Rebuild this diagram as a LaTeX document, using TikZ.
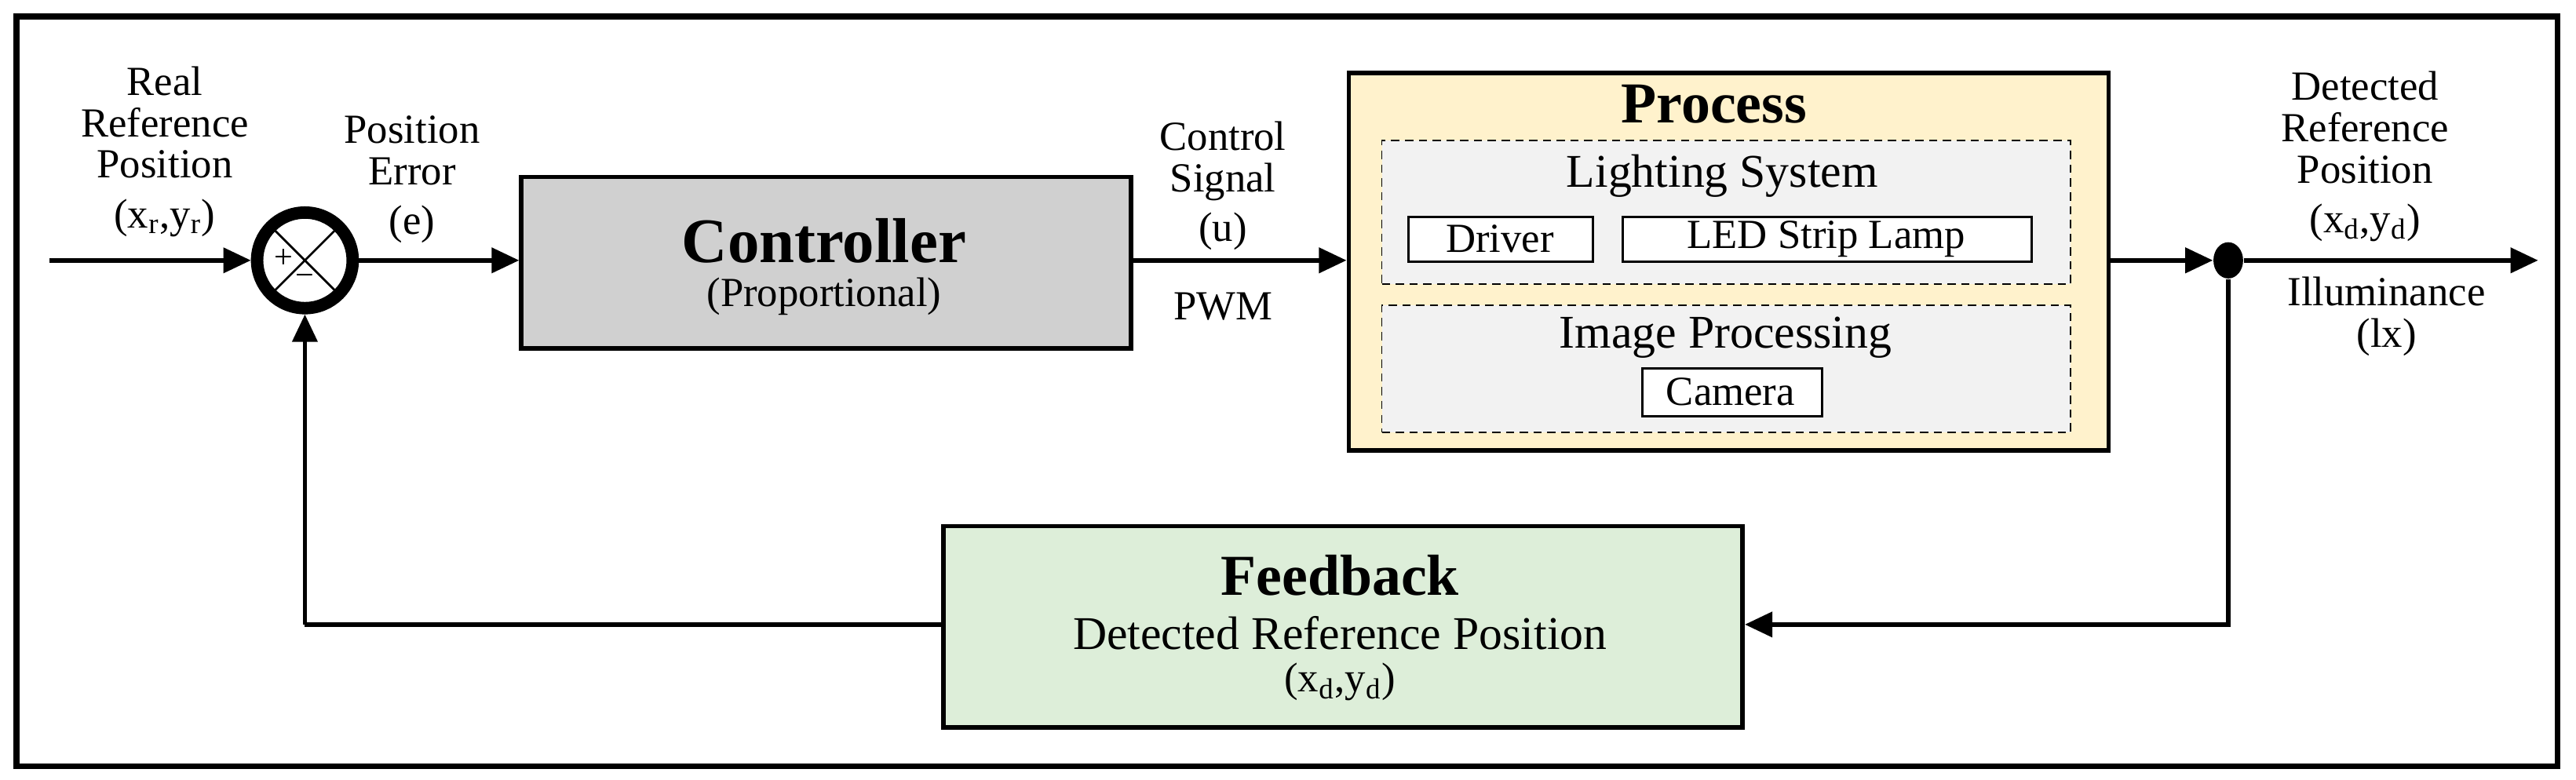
\documentclass[tikz,border=0pt]{standalone}
\usepackage{fontspec}
\setmainfont{Liberation Serif}
\usetikzlibrary{arrows.meta,calc,shapes.geometric}
\definecolor{procfill}{HTML}{FFF2CC}
\definecolor{fbfill}{HTML}{DDEED9}
\definecolor{ctrlfill}{HTML}{D0D0D0}
\definecolor{subfill}{HTML}{F2F2F2}
\begin{document}
\begin{tikzpicture}[x=0.021cm,y=-0.021cm,
  lbl/.style={align=center,font=\fontsize{15}{15}\selectfont,inner sep=0},
  arr/.style={line width=1.6pt,-{Triangle[length=10pt,width=9pt]}},
  ln/.style={line width=1.6pt},
  blk/.style={draw,line width=1.6pt,anchor=north west,inner sep=0},
  dsh/.style={draw,densely dashed,line width=0.5pt,fill=subfill,anchor=north west,inner sep=0},
  sub/.style={draw,line width=0.8pt,fill=white,anchor=north west,inner sep=0}]
\useasboundingbox (0,0) rectangle (1563,473);
\draw[line width=2pt] (10,10) rectangle (1552,465);
% blocks
\node[blk,fill=ctrlfill,minimum width=370*0.021cm,minimum height=104*0.021cm] (ctrl) at (315,106) {};
\node[font=\fontsize{23}{24}\selectfont\bfseries] at (500,146) {Controller};
\node[lbl] at (500,180) {(Proportional)};
\node[blk,fill=procfill,minimum width=461*0.021cm,minimum height=229*0.021cm] (proc) at (817,43) {};
\node[font=\fontsize{21}{22}\selectfont\bfseries] at (1040,63) {Process};
\node[dsh,minimum width=418*0.021cm,minimum height=87*0.021cm] (ls) at (838,85) {};
\node[lbl,font=\fontsize{17}{17}\selectfont] at (1045,107) {Lighting System};
\node[sub,minimum width=112*0.021cm,minimum height=27*0.021cm] (drv) at (854,131) {};
\node[lbl] at (910,145) {Driver};
\node[sub,minimum width=248*0.021cm,minimum height=27*0.021cm] (led) at (984,131) {};
\node[lbl] at (1108,145) {LED Strip Lamp};
\node[dsh,minimum width=418*0.021cm,minimum height=77*0.021cm] (ip) at (838,185) {};
\node[lbl,font=\fontsize{17}{17}\selectfont] at (1047,205) {Image Processing};
\node[sub,minimum width=109*0.021cm,minimum height=29*0.021cm] (cam) at (996,223) {};
\node[lbl] at (1050,238) {Camera};
\node[blk,fill=fbfill,minimum width=485*0.021cm,minimum height=122*0.021cm] (fb) at (571,318) {};
\node[font=\fontsize{21}{22}\selectfont\bfseries] at (813,349) {Feedback};
\node[lbl,font=\fontsize{17}{17}\selectfont] at (813,384) {Detected Reference Position};
\node[lbl] at (813,414) {(x\textsubscript{d},y\textsubscript{d})};
% summing junction
\node[circle,draw,line width=4.5pt,minimum size=58*0.021cm,inner sep=0] (sum) at (185,158) {};
\draw[line width=0.8pt] ($(sum.center)+(-18,-18)$) -- ($(sum.center)+(18,18)$);
\draw[line width=0.8pt] ($(sum.center)+(18,-18)$) -- ($(sum.center)+(-18,18)$);
\node[lbl,font=\fontsize{12}{12}\selectfont] at (172,157) {+};
\node[lbl,font=\fontsize{12}{12}\selectfont] at (185,170) {\textminus};
% dot
\node[ellipse,fill=black,minimum width=18*0.021cm,minimum height=22*0.021cm,inner sep=0] (dot) at (1352,158) {};
\coordinate (in) at (30,158);
\coordinate (out) at (1540,158);
\coordinate (c1) at (1352,379);
\coordinate (c2) at (185,379);
% connectors
\draw[arr] (in) -- (sum.west);
\draw[arr] (sum.east) -- (sum.east -| ctrl.west);
\draw[arr] (sum.east -| ctrl.east) -- (sum.east -| proc.west);
\draw[arr] (proc.east |- dot) -- (dot.west);
\draw[arr] (dot.east) -- (out);
\draw[arr] (dot.south) -- (c1) -- (fb.east |- c1);
\draw[ln] (fb.west |- c2) -- (c2);
\draw[arr] (c2) -- (sum.south);
% labels
\node[lbl] at (100,92) {Real\\Reference\\Position\\[3pt](x\textsubscript{r},y\textsubscript{r})};
\node[lbl] at (250,109) {Position\\Error\\[3pt](e)};
\node[lbl] at (742,113) {Control\\Signal\\[3pt](u)};
\node[lbl] at (742,186) {PWM};
\node[lbl] at (1435,95) {Detected\\Reference\\Position\\[3pt](x\textsubscript{d},y\textsubscript{d})};
\node[lbl] at (1448,192) {Illuminance\\(lx)};
\end{tikzpicture}
\end{document}
